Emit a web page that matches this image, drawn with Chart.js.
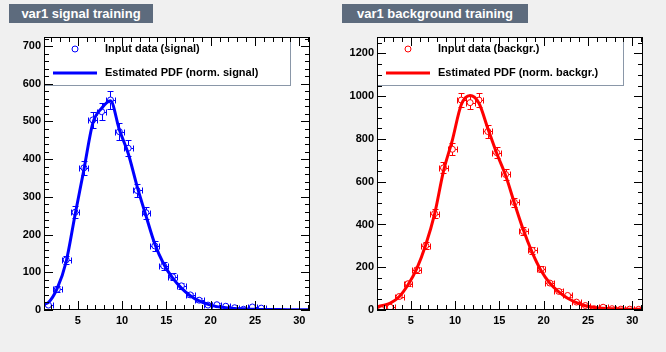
<!DOCTYPE html>
<html>
<head>
<meta charset="utf-8">
<script src="https://cdn.jsdelivr.net/npm/chart.js@4"></script>
<style>
  body { margin: 0; background: #f0f0f0; width: 666px; height: 352px; position: relative; overflow: hidden; font-family: "Liberation Sans", Arial, sans-serif; }
  .pad { position: absolute; top: 0; width: 333px; height: 352px; }
  .title { position: absolute; top: 4px; height: 19px; line-height: 19px; background: #5d6b7d; color: #fff; font-weight: bold; font-size: 13px; text-align: center; }
</style>
</head>
<body>
<div class="pad" style="left:0"><canvas id="sig" width="333" height="352"></canvas></div>
<div class="pad" style="left:333px"><canvas id="bkg" width="333" height="352"></canvas></div>
<div class="title" style="left:9px;width:144px">var1 signal training</div>
<div class="title" style="left:342px;width:186px">var1 background training</div>
<script>
// bin centres of the var1 histograms
const binCenters = [1.7, 2.7, 3.7, 4.7, 5.7, 6.7, 7.7, 8.7, 9.7, 10.7, 11.7, 12.7, 13.7, 14.7, 15.7,
  16.7, 17.7, 18.7, 19.7, 20.7, 21.7, 22.7, 23.7, 24.7, 25.7, 26.7, 27.7, 28.7, 29.7, 30.7];

// signal input data (empty bins are null)
const sigCounts = [13, 55, 133, 259, 377, 504, 526, 557, 473, 429, 317, 258, 170, 117, 88,
  64, 40, 26, 13, 14, 10, 6, 2, 8, 5, null, null, null, null, null];
const sigErrors = [3.6, 7.4, 11.5, 16.1, 19.4, 22.4, 22.9, 23.6, 21.7, 20.7, 17.8, 16.1, 13.0, 10.8, 9.4,
  8.0, 6.3, 5.1, 3.6, 3.7, 3.2, 2.4, 1.4, 2.8, 2.2, null, null, null, null, null];

// background input data
const bkgCounts = [2, 13, 63, 123, 188, 301, 451, 665, 752, 982, 970, 982, 835, 736, 634,
  503, 368, 279, 190, 126, 87, 68, 37, 21, 6, 13, 6, 4, 4, 3];
const bkgErrors = [1.4, 3.6, 7.9, 11.1, 13.7, 17.3, 21.2, 25.8, 27.4, 31.3, 31.1, 31.3, 28.9, 27.1, 25.2,
  22.4, 19.2, 16.7, 13.8, 11.2, 9.3, 8.2, 6.1, 4.6, 2.4, 3.6, 2.4, 2.0, 2.0, 1.7];

// estimated PDF curves
const pdfX = [1.2, 1.7, 2.7, 3.7, 4.7, 5.7, 6.7, 7.7, 8.7, 9.7, 10.7, 11.7, 12.7, 13.7, 14.7, 15.7,
  16.7, 17.7, 18.7, 19.7, 20.7, 21.7, 22.7, 23.7, 24.7, 25.7, 26.7, 27.7, 28.7, 29.7, 30.7, 31.2];
const sigPdf = [16, 20, 58, 128, 252, 372, 495, 535, 555, 478, 415, 328, 250, 175, 122, 85,
  58, 38, 24, 15, 9, 6, 4, 3, 2, 1.5, 1.2, 1, 0.8, 0.6, 0.5, 0.5];
const bkgPdf = [15, 20, 32, 62, 118, 195, 305, 450, 650, 795, 960, 1003, 967, 849, 733, 630,
  500, 375, 270, 185, 125, 85, 55, 35, 20, 12, 8, 6, 5, 4, 3, 3];

// axes
const xRange = [1.2, 31.2];
const xTicks = [5, 10, 15, 20, 25, 30];
const sigYMax = 724;
const sigYTicks = [0, 100, 200, 300, 400, 500, 600, 700];
const bkgYMax = 1277;
const bkgYTicks = [0, 200, 400, 600, 800, 1000, 1200];

const FONT = 'Liberation Sans';

function drawTicks(ctx, scale, majors, minorStep, horizontal, area) {
  const vals = [];
  const start = Math.ceil(scale.min / minorStep) * minorStep;
  for (let v = start; v <= scale.max + 1e-9; v += minorStep) vals.push(v);
  ctx.beginPath();
  vals.forEach(v => {
    const isMajor = majors.some(m => Math.abs(m - v) < 1e-6);
    const len = isMajor ? 9 : 5;
    const p = Math.round(scale.getPixelForValue(v)) + 0.5;
    if (horizontal) {
      ctx.moveTo(p, area.bottom); ctx.lineTo(p, area.bottom - len);
      ctx.moveTo(p, area.top); ctx.lineTo(p, area.top + len);
    } else {
      ctx.moveTo(area.left, p); ctx.lineTo(area.left + len, p);
      ctx.moveTo(area.right, p); ctx.lineTo(area.right - len, p);
    }
  });
  ctx.stroke();
}

const rootPad = {
  id: 'rootPad',
  beforeDraw(chart) {
    const { ctx, chartArea: a } = chart;
    ctx.save();
    ctx.fillStyle = '#fff';
    ctx.fillRect(a.left, a.top, a.right - a.left, a.bottom - a.top);
    ctx.restore();
  },
  beforeDatasetsDraw(chart, args, opts) {
    const { ctx, chartArea: a } = chart;
    const x = chart.scales.x, y = chart.scales.y;
    ctx.save();
    ctx.beginPath();
    ctx.rect(a.left, a.top, a.right - a.left, a.bottom - a.top);
    ctx.clip();
    ctx.strokeStyle = opts.color;
    ctx.lineWidth = 1;
    ctx.beginPath();
    opts.counts.forEach((c, i) => {
      if (c === null) return;
      const e = opts.errors[i];
      const px = Math.round(x.getPixelForValue(binCenters[i])) + 0.5;
      const py = Math.round(y.getPixelForValue(c)) + 0.5;
      const top = Math.round(y.getPixelForValue(c + e)) + 0.5;
      const bot = Math.round(y.getPixelForValue(Math.max(c - e, 0))) + 0.5;
      const l = Math.round(x.getPixelForValue(binCenters[i] - 0.5)) + 0.5;
      const r = Math.round(x.getPixelForValue(binCenters[i] + 0.5)) + 0.5;
      ctx.moveTo(px, top); ctx.lineTo(px, bot);
      ctx.moveTo(px - 3, top); ctx.lineTo(px + 3, top);
      ctx.moveTo(px - 3, bot); ctx.lineTo(px + 3, bot);
      ctx.moveTo(l, py); ctx.lineTo(r, py);
      ctx.moveTo(l, py - 3); ctx.lineTo(l, py + 3);
      ctx.moveTo(r, py - 3); ctx.lineTo(r, py + 3);
    });
    ctx.stroke();
    ctx.restore();
  },
  afterDatasetsDraw(chart, args, opts) {
    const { ctx, chartArea: a } = chart;
    ctx.save();
    // legend box
    const lx = a.left, ly = a.top, lw = 246, lh = 48;
    ctx.fillStyle = '#fff';
    ctx.fillRect(lx, ly, lw, lh);
    ctx.strokeStyle = '#8a97a8';
    ctx.lineWidth = 1;
    ctx.strokeRect(lx + 0.5, ly + 0.5, lw, lh);
    ctx.strokeStyle = opts.color;
    ctx.beginPath();
    ctx.arc(lx + 31, ly + 12, 3, 0, Math.PI * 2);
    ctx.stroke();
    ctx.lineWidth = 3;
    ctx.beginPath();
    ctx.moveTo(lx + 9, ly + 36); ctx.lineTo(lx + 53, ly + 36);
    ctx.stroke();
    ctx.fillStyle = '#000';
    ctx.font = 'bold 11px "' + FONT + '"';
    ctx.textBaseline = 'middle';
    ctx.fillText(opts.labels[0], lx + 61, ly + 12);
    ctx.fillText(opts.labels[1], lx + 61, ly + 36);
    // frame and inward ticks
    ctx.strokeStyle = '#000';
    ctx.lineWidth = 1;
    ctx.strokeRect(a.left + 0.5, a.top + 0.5, a.right - a.left - 1, a.bottom - a.top - 1);
    drawTicks(ctx, chart.scales.x, xTicks, 1, true, a);
    drawTicks(ctx, chart.scales.y, opts.yTicks, opts.yMinor, false, a);
    ctx.restore();
  }
};

function makeChart(id, counts, errors, pdf, color, yMax, yTicks, yMinor, labels) {
  const points = binCenters.map((x, i) => ({ x: x, y: counts[i] })).filter(p => p.y !== null);
  const curve = pdfX.map((x, i) => ({ x: x, y: pdf[i] }));
  return new Chart(document.getElementById(id), {
    type: 'scatter',
    data: {
      datasets: [
        {
          data: curve,
          showLine: true,
          borderColor: color,
          borderWidth: 3,
          pointRadius: 0,
          cubicInterpolationMode: 'monotone',
          fill: false
        },
        {
          data: points,
          showLine: false,
          pointStyle: 'circle',
          pointRadius: 3,
          borderWidth: 1,
          borderColor: color,
          backgroundColor: '#fff'
        }
      ]
    },
    options: {
      responsive: false,
      animation: false,
      events: [],
      layout: { padding: { top: 37, right: 23, left: 0, bottom: 0 } },
      plugins: {
        legend: { display: false },
        tooltip: { enabled: false },
        rootPad: { counts, errors, color, yTicks, yMinor, labels }
      },
      scales: {
        x: {
          type: 'linear',
          min: xRange[0],
          max: xRange[1],
          grid: { display: false, drawTicks: false },
          border: { display: false },
          afterBuildTicks: s => { s.ticks = xTicks.map(v => ({ value: v })); },
          afterFit: s => { s.height = 42; },
          ticks: { padding: 4, color: '#000', font: { family: FONT, weight: 'bold', size: 11 }, maxRotation: 0,
            callback: v => String(v) }
        },
        y: {
          type: 'linear',
          min: 0,
          max: yMax,
          grid: { display: false, drawTicks: false },
          border: { display: false },
          afterBuildTicks: s => { s.ticks = yTicks.map(v => ({ value: v })); },
          afterFit: s => { s.width = 44; },
          ticks: { padding: 3, color: '#000', font: { family: FONT, weight: 'bold', size: 11 },
            callback: v => String(v) }
        }
      }
    },
    plugins: [rootPad]
  });
}

makeChart('sig', sigCounts, sigErrors, sigPdf, '#0000ff', sigYMax, sigYTicks, 20,
  ['Input data (signal)', 'Estimated PDF (norm. signal)']);
makeChart('bkg', bkgCounts, bkgErrors, bkgPdf, '#ff0000', bkgYMax, bkgYTicks, 50,
  ['Input data (backgr.)', 'Estimated PDF (norm. backgr.)']);
</script>
</body>
</html>
